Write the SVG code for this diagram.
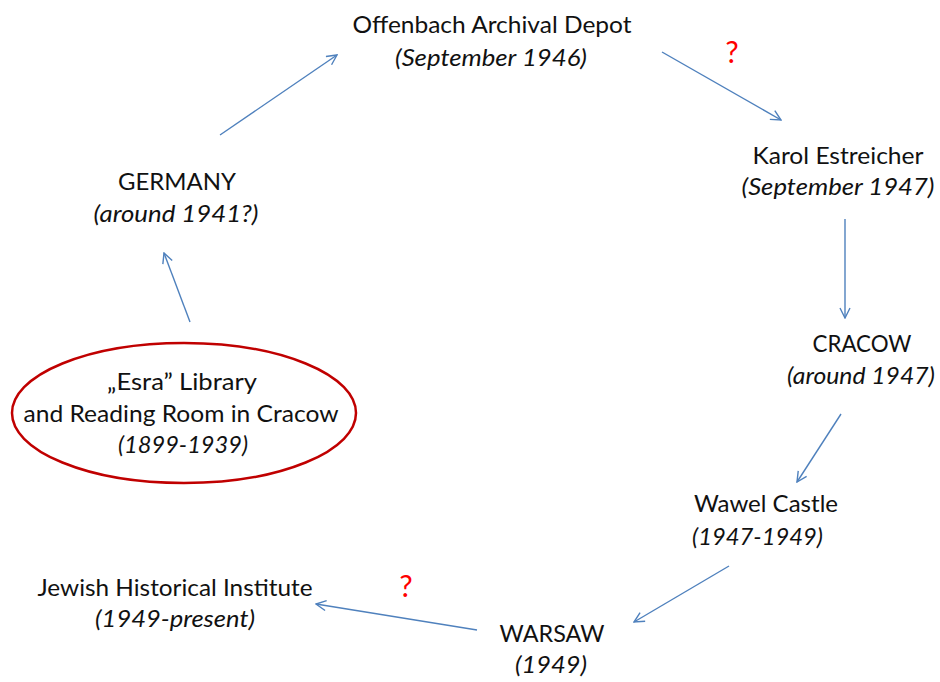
<svg xmlns="http://www.w3.org/2000/svg" width="940" height="682" viewBox="0 0 940 682">
<defs>
<marker id="arr" viewBox="0 0 12 12" refX="11" refY="6" markerWidth="12" markerHeight="12" markerUnits="userSpaceOnUse" orient="auto">
<path d="M1,1 L11,6 L1,11" fill="none" stroke="#4F81BD" stroke-width="1.4"/>
</marker>
<style>
text{font-family:Lato,"Open Sans",sans-serif;font-size:23px;fill:#111;}
.c{text-anchor:middle;}
.i{font-style:italic;}
.q{fill:#FF0000;font-size:30px;}
.e{stroke:#4F81BD;stroke-width:1.4;fill:none;marker-end:url(#arr);}
</style>
</defs>
<rect width="940" height="682" fill="#fff"/>
<g id="connectors">
<line class="e" x1="190" y1="322" x2="164" y2="253"/>
<line class="e" x1="220" y1="135" x2="337" y2="55"/>
<line class="e" x1="662" y1="52" x2="781" y2="120"/>
<line class="e" x1="845" y1="219" x2="845" y2="318"/>
<line class="e" x1="841" y1="414" x2="797" y2="482"/>
<line class="e" x1="729" y1="566" x2="634" y2="622"/>
<line class="e" x1="477" y1="630" x2="316" y2="604"/>
</g>
<g id="offenbach">
<text class="c" x="492" y="33" textLength="279" lengthAdjust="spacingAndGlyphs">Offenbach Archival Depot</text>
<text class="c i" x="491" y="66" textLength="192" lengthAdjust="spacingAndGlyphs">(September 1946)</text>
</g>
<g id="q1"><text class="q c" x="732" y="63">?</text></g>
<g id="karol">
<text class="c" x="838" y="164" textLength="171" lengthAdjust="spacingAndGlyphs">Karol Estreicher</text>
<text class="c i" x="838" y="195" textLength="193" lengthAdjust="spacingAndGlyphs">(September 1947)</text>
</g>
<g id="cracow">
<text class="c" x="862" y="352" textLength="99" lengthAdjust="spacingAndGlyphs">CRACOW</text>
<text class="c i" x="861" y="384" textLength="148" lengthAdjust="spacingAndGlyphs">(around 1947)</text>
</g>
<g id="wawel">
<text x="694" y="512" textLength="144" lengthAdjust="spacingAndGlyphs">Wawel Castle</text>
<text class="i" x="692" y="545" textLength="131" lengthAdjust="spacingAndGlyphs">(1947-1949)</text>
</g>
<g id="warsaw">
<text class="c" x="552" y="642" textLength="105" lengthAdjust="spacingAndGlyphs">WARSAW</text>
<text class="c i" x="551" y="673" textLength="72" lengthAdjust="spacingAndGlyphs">(1949)</text>
</g>
<g id="jewish">
<text class="c" x="175" y="596" textLength="275" lengthAdjust="spacingAndGlyphs">Jewish Historical Institute</text>
<text class="c i" x="175" y="627" textLength="160" lengthAdjust="spacingAndGlyphs">(1949-present)</text>
</g>
<g id="q2"><text class="q c" x="406" y="597">?</text></g>
<g id="germany">
<text class="c" x="177" y="190" textLength="118" lengthAdjust="spacingAndGlyphs">GERMANY</text>
<text class="c i" x="176" y="222" textLength="165" lengthAdjust="spacingAndGlyphs">(around 1941?)</text>
</g>
<g id="esra">
<ellipse cx="184" cy="413" rx="172" ry="70" fill="none" stroke="#C00000" stroke-width="2.5"/>
<text class="c" x="182" y="390" textLength="150" lengthAdjust="spacingAndGlyphs">„Esra” Library</text>
<text class="c" x="181" y="422" textLength="315" lengthAdjust="spacingAndGlyphs">and Reading Room in Cracow</text>
<text class="c i" x="183" y="453" textLength="130" lengthAdjust="spacingAndGlyphs">(1899-1939)</text>
</g>
</svg>
